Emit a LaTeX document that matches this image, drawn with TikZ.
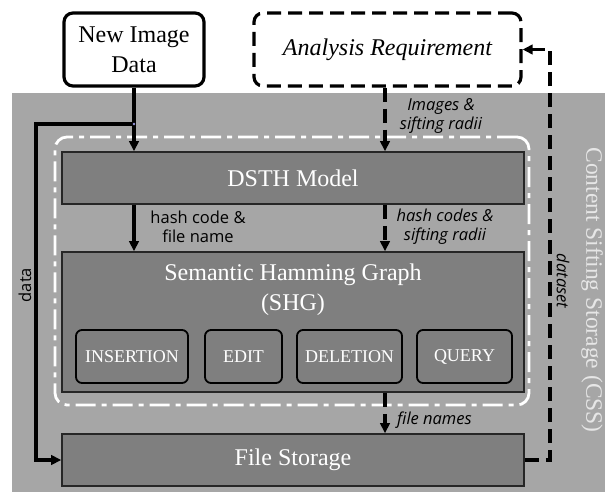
\documentclass[tikz,border=0pt]{standalone}
\usepackage{fontspec}
\setmainfont{Liberation Serif}
\newfontfamily\labfont{Open Sans}
\usetikzlibrary{arrows.meta}
\definecolor{bggray}{HTML}{A6A6A6}
\definecolor{boxgray}{HTML}{7F7F7F}
\definecolor{cssgray}{HTML}{E6E6E6}
\begin{document}
\begin{tikzpicture}[x=1pt,y=-1pt,
  graybox/.style={draw=black!85, line width=1.6pt, fill=boxgray, text=white,
    font=\fontsize{24}{29}\selectfont, inner sep=0pt, align=center},
  opbox/.style={draw=black, line width=1.8pt, rounded corners=6pt, fill=boxgray, text=white,
    font=\fontsize{18}{20}\selectfont, inner sep=0pt, minimum height=53pt},
  topbox/.style={draw=black, line width=3.2pt, rounded corners=9pt, fill=white,
    font=\fontsize{24}{30}\selectfont, align=center, inner sep=0pt},
  frame/.style={draw=white, line width=2.8pt, rounded corners=12pt,
    dash pattern=on 20pt off 6pt on 5pt off 6pt, inner sep=0pt},
  lab/.style={font=\labfont\fontsize{16.5}{19}\selectfont, align=center, inner sep=0pt},
  labi/.style={font=\labfont\itshape\fontsize{16.5}{19}\selectfont, align=center, inner sep=0pt},
  arr/.style={line width=3.3pt, -{Triangle[length=10pt,width=9.5pt]}},
  dsh/.style={dash pattern=on 14pt off 7pt}]
\useasboundingbox (0,0) rectangle (605,495);
\fill[bggray] (12,93) rectangle (605,492);

% top boxes
\node[topbox, minimum width=140pt, minimum height=73pt] (newimg) at (134,49.5) {New Image\\Data};
\node[topbox, dsh, minimum width=267pt, minimum height=73pt] (analysis) at (387.5,49.5) {\itshape Analysis Requirement};

% dash-dot frame
\node[frame, minimum width=474pt, minimum height=268pt] (fr) at (292,271) {};

% main boxes
\node[graybox, minimum width=462pt, minimum height=52pt] (dsth) at (293,178) {DSTH Model};
\node[graybox, minimum width=462pt, minimum height=140pt] (shg) at (293,322) {};
\node[text=white, font=\fontsize{24}{30}\selectfont, align=center, inner sep=0pt] (shgt) at (293,290) {Semantic Hamming Graph\\(SHG)};
\node[opbox, minimum width=112pt] (ins) at (132,356.5) {INSERTION};
\node[opbox, minimum width=77pt] (edit) at (243.5,356.5) {EDIT};
\node[opbox, minimum width=105pt] (del) at (349.5,356.5) {DELETION};
\node[opbox, minimum width=95pt] (qry) at (464.5,356.5) {QUERY};
\node[graybox, minimum width=462pt, minimum height=52pt] (fs) at (293,460) {File Storage};

% side texts
\node[font=\fontsize{23.5}{28}\selectfont, text=cssgray, rotate=-90, inner sep=0pt] (css) at (592,290) {Content Sifting Storage (CSS)};

% helper coordinates
\coordinate (c2) at (385,0);
\coordinate (J) at (134,124);
\coordinate (L) at (36,124);
\coordinate (R) at (550,0);

% connectors
\draw[arr] (newimg.south) -- (newimg.south |- dsth.north);
\draw[arr] (J) -- (L) -- (L |- fs.west) -- (fs.west);
\fill[black!30!blue!40] (J) circle (1.3pt);
\draw[arr, dsh] (analysis.south -| c2) -- (dsth.north -| c2);
\draw[arr] (dsth.south -| J) -- (shg.north -| J);
\draw[arr, dsh] (dsth.south -| c2) -- (shg.north -| c2);
\draw[arr, dsh] (shg.south -| c2) -- (fs.north -| c2);
\draw[arr, dsh] (fs.east) -- (R |- fs.east) -- (R |- analysis.east) -- (analysis.east);

% labels
\node[labi] (l1) at (441,116) {Images \&\\sifting radii};
\node[lab] (l2) at (198,227) {hash code \&\\file name};
\node[labi] (l3) at (445,227) {hash codes \&\\sifting radii};
\node[labi, anchor=west] (l4) at (397,420) {file names};
\node[lab, rotate=90] (l5) at (25,285) {data};
\node[labi, rotate=-90] (l6) at (563,281) {dataset};
\end{tikzpicture}
\end{document}
